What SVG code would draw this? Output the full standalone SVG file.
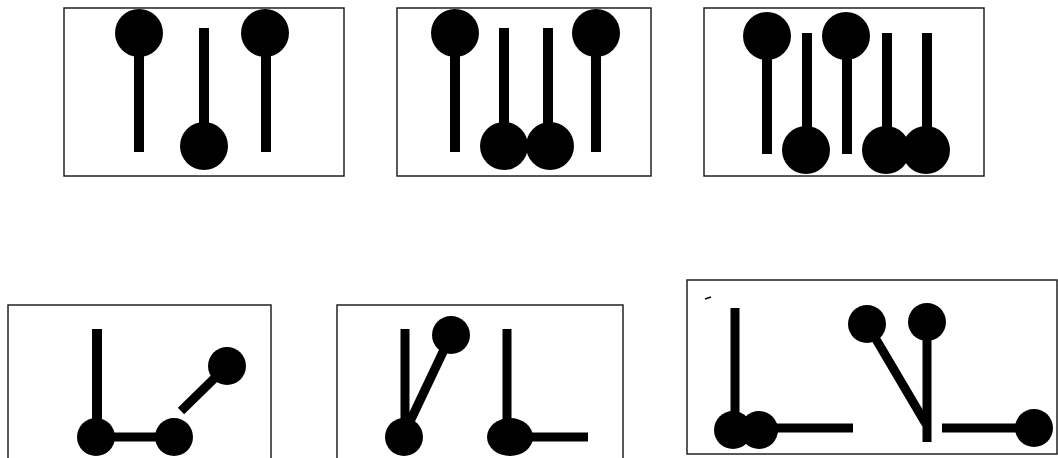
<svg xmlns="http://www.w3.org/2000/svg" width="1058" height="458" viewBox="0 0 1058 458">
<style>
.frame{fill:#fff;stroke:#222;stroke-width:1.5}
.st{stroke:#000;stroke-width:10;fill:none}
.st2{stroke:#000;stroke-width:9;fill:none}
.b{fill:#000}
</style>
<rect width="1058" height="458" fill="#fff"/>
<g id="panel1">
<rect class="frame" x="64" y="8" width="280" height="168"/>
<line class="st" x1="139" y1="33" x2="139" y2="152"/>
<circle class="b" cx="139" cy="33" r="24"/>
<line class="st" x1="204" y1="28" x2="204" y2="146"/>
<circle class="b" cx="204" cy="146" r="24"/>
<line class="st" x1="266" y1="33" x2="266" y2="152"/>
<circle class="b" cx="265" cy="33" r="24"/>
</g>
<g id="panel2">
<rect class="frame" x="397" y="8" width="254" height="168"/>
<line class="st" x1="455" y1="33" x2="455" y2="152"/>
<circle class="b" cx="455" cy="33" r="24"/>
<line class="st" x1="504" y1="28" x2="504" y2="146"/>
<circle class="b" cx="504" cy="146" r="24"/>
<line class="st" x1="548" y1="28" x2="548" y2="146"/>
<circle class="b" cx="550" cy="146" r="24"/>
<line class="st" x1="596" y1="33" x2="596" y2="152"/>
<circle class="b" cx="596" cy="33" r="24"/>
</g>
<g id="panel3">
<rect class="frame" x="704" y="8" width="280" height="168"/>
<line class="st" x1="767" y1="36" x2="767" y2="154"/>
<circle class="b" cx="767" cy="36" r="24"/>
<line class="st" x1="807" y1="33" x2="807" y2="150"/>
<circle class="b" cx="806" cy="150" r="24"/>
<line class="st" x1="847" y1="36" x2="847" y2="154"/>
<circle class="b" cx="846" cy="36" r="24"/>
<line class="st" x1="887" y1="33" x2="887" y2="150"/>
<circle class="b" cx="886" cy="150" r="24"/>
<line class="st" x1="927" y1="33" x2="927" y2="150"/>
<circle class="b" cx="926" cy="150" r="24"/>
</g>
<g id="panel4">
<rect class="frame" x="8" y="305" width="263" height="170"/>
<line class="st" x1="97" y1="329" x2="97" y2="437"/>
<line class="st2" x1="96" y1="437" x2="174" y2="437"/>
<circle class="b" cx="96" cy="437" r="19"/>
<circle class="b" cx="174" cy="437" r="19"/>
<line class="st2" x1="181" y1="411" x2="227" y2="366"/>
<circle class="b" cx="227" cy="366" r="19"/>
</g>
<g id="panel5">
<rect class="frame" x="337" y="305" width="286" height="170"/>
<line class="st2" x1="405" y1="329" x2="405" y2="437"/>
<line class="st2" x1="405" y1="432" x2="451" y2="335"/>
<circle class="b" cx="404" cy="437" r="19"/>
<circle class="b" cx="451" cy="335" r="19"/>
<line class="st2" x1="507" y1="329" x2="507" y2="437"/>
<line class="st2" x1="510" y1="437" x2="588" y2="437"/>
<ellipse class="b" cx="510" cy="437" rx="23" ry="19"/>
</g>
<g id="panel6">
<rect class="frame" x="687" y="280" width="370" height="174"/>
<line x1="705" y1="299" x2="711" y2="297" stroke="#000" stroke-width="1.5"/>
<line class="st2" x1="735" y1="308" x2="735" y2="430"/>
<line class="st2" x1="759" y1="428" x2="853" y2="428"/>
<circle class="b" cx="733" cy="430" r="19"/>
<circle class="b" cx="759" cy="430" r="19"/>
<line class="st2" x1="867" y1="324" x2="926" y2="424"/>
<line class="st2" x1="927" y1="323" x2="927" y2="442"/>
<circle class="b" cx="867" cy="324" r="19"/>
<circle class="b" cx="927" cy="322" r="19"/>
<line class="st2" x1="942" y1="428" x2="1034" y2="428"/>
<circle class="b" cx="1034" cy="428" r="19"/>
</g>
</svg>
